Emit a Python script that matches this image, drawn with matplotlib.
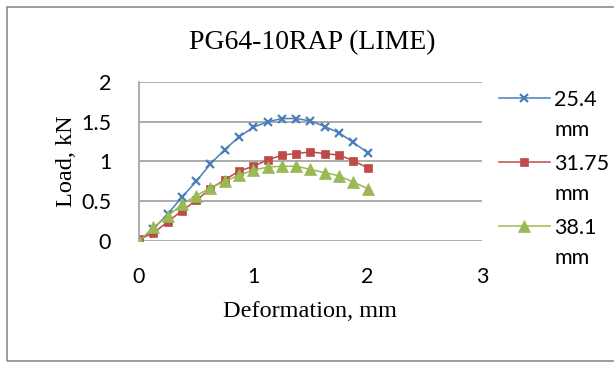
import matplotlib
matplotlib.use("Agg")
import matplotlib.pyplot as plt
from matplotlib.lines import Line2D
from matplotlib.patches import Rectangle

# deformation (mm) and load (kN) for each specimen size
deformation = [0, 0.125, 0.25, 0.375, 0.5, 0.625, 0.75, 0.875, 1.0,
               1.125, 1.25, 1.375, 1.5, 1.625, 1.75, 1.875, 2.0]
load_254 = [0, 0.15, 0.34, 0.55, 0.75, 0.97, 1.15, 1.31, 1.43,
            1.50, 1.54, 1.54, 1.51, 1.44, 1.36, 1.24, 1.11]
load_3175 = [0.02, 0.10, 0.24, 0.38, 0.51, 0.66, 0.77, 0.88, 0.94,
             1.02, 1.08, 1.10, 1.12, 1.10, 1.08, 1.01, 0.92]
load_381 = [0, 0.17, 0.31, 0.46, 0.57, 0.67, 0.75, 0.83, 0.89,
            0.93, 0.94, 0.94, 0.90, 0.86, 0.82, 0.74, 0.66]
labels = ["25.4", "31.75", "38.1"]
unit = "mm"
xticks = [0, 1, 2, 3]
yticks = [0, 0.5, 1, 1.5, 2]

SANS = ["Lato", "DejaVu Sans"]
SERIF = ["Liberation Serif", "DejaVu Serif"]
W, H = 614, 368

fig = plt.figure(figsize=(W / 100, H / 100), dpi=100)
ax = fig.add_axes([0.2264, 0.3451, 0.5586, 0.4321])

series = [
    (load_254, "#4A7EBB", "x", 6, 1.6),
    (load_3175, "#BE4B48", "s", 6, 0.5),
    (load_381, "#98B954", "^", 8, 0.5),
]
for ys, col, mk, ms, mew in series:
    ax.plot(deformation, ys, color=col, lw=1.1, marker=mk, ms=ms,
            mfc=col, mec=col, mew=mew)

ax.set_xlim(0, 3)
ax.set_ylim(0, 2)
ax.set_xticks(xticks)
ax.set_yticks(yticks)
ax.set_xticklabels([str(v) for v in xticks], family=SANS, fontsize=15.5)
ax.set_yticklabels([f"{v:g}" for v in yticks], family=SANS, fontsize=15.5)
ax.tick_params(axis="x", length=0, pad=19)
ax.tick_params(axis="y", length=0, pad=20)
ax.grid(axis="y", color="#A6A6A6", lw=1.3)
for s in ["top", "right", "bottom"]:
    ax.spines[s].set_visible(False)
ax.spines["left"].set_color("#A6A6A6")
ax.spines["left"].set_linewidth(1.3)

ax.set_xlabel("Deformation, mm", family=SERIF, fontsize=17.5, labelpad=10)
ax.set_ylabel("Load, kN", family=SERIF, fontsize=17.5, labelpad=3)
fig.text(312 / W, 1 - 43 / H, "PG64-10RAP (LIME)", family=SERIF,
         fontsize=20, ha="center", va="center")

# legend: handle on the first line, unit wrapped below
for (ys, col, mk, ms, mew), lab, yp in zip(series, labels, [98, 162, 226]):
    y = 1 - yp / H
    fig.add_artist(Line2D([499 / W, 550 / W], [y, y], color=col, lw=1.1,
                          transform=fig.transFigure))
    fig.add_artist(Line2D([524 / W], [y], marker=mk, ms=ms, mfc=col, mec=col,
                          mew=mew, transform=fig.transFigure))
    fig.text(554 / W, y, lab, family=SANS, fontsize=15.5, va="center_baseline")
    fig.text(554 / W, y - 30 / H, unit, family=SANS, fontsize=15.5,
             va="center_baseline")

# outer chart frame
fig.patches.append(Rectangle((7 / W, 7 / H), 1.2, 354 / H,
                             transform=fig.transFigure, fill=False,
                             ec="#8C8C8C", lw=1.2))

fig.savefig("out.png", dpi=100)
